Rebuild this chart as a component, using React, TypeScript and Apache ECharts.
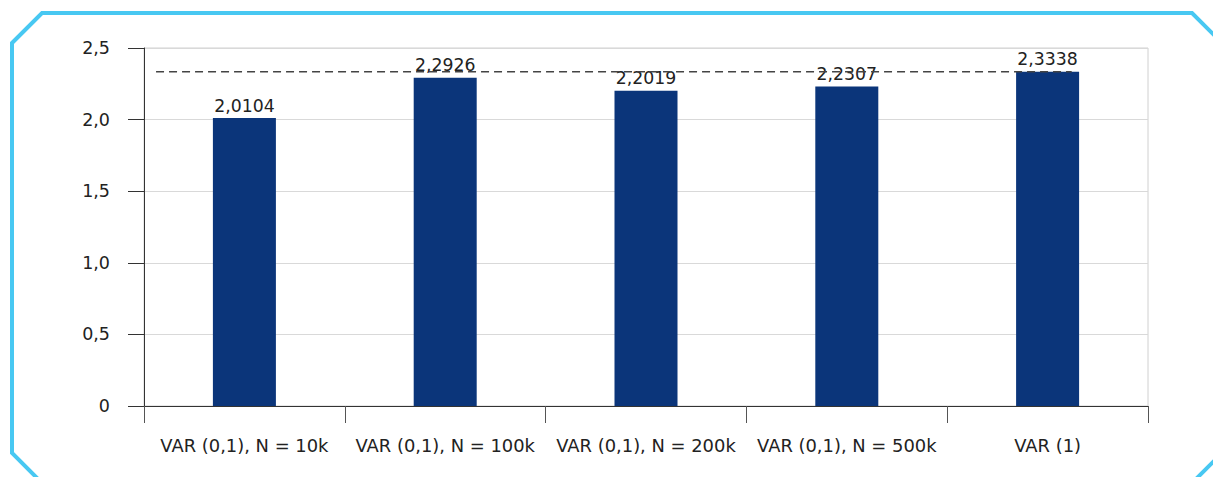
import React, { useEffect, useRef } from "react";
import * as echarts from "echarts";

const categories = [
  "VAR (0,1), N = 10k",
  "VAR (0,1), N = 100k",
  "VAR (0,1), N = 200k",
  "VAR (0,1), N = 500k",
  "VAR (1)",
];
const values = [2.0104, 2.2926, 2.2019, 2.2307, 2.3338];
const refValue = 2.3338;
const refLineX = [0.06, 4.62];
const yTicks = { min: 0, max: 2.5, interval: 0.5 };

const FONT = "'DejaVu Sans', 'Noto Sans', sans-serif";

export default function App() {
  const ref = useRef<HTMLDivElement>(null);
  useEffect(() => {
    if (!ref.current) return;
    const chart = echarts.init(ref.current, undefined, { renderer: "svg" });
    const fmt = (v: number) => (v === 0 ? "0" : v.toFixed(1).replace(".", ","));
    chart.setOption({
      animation: false,
      backgroundColor: "#ffffff",
      textStyle: { fontFamily: FONT },
      grid: {
        left: 144,
        right: 65,
        top: 48,
        bottom: 71,
        show: true,
        borderColor: "#d0d0d0",
        borderWidth: 1,
      },
      xAxis: [
        {
          type: "category",
          data: categories,
          boundaryGap: true,
          axisLine: { show: true, lineStyle: { color: "#333", width: 1 } },
          axisTick: { show: true, length: 17, lineStyle: { color: "#555" } },
          axisLabel: {
            margin: 30,
            fontSize: 17.9,
            color: "#222",
            fontFamily: FONT,
            interval: 0,
          },
          splitLine: { show: false },
        },
        {
          type: "value",
          min: 0,
          max: 5,
          show: false,
        },
      ],
      yAxis: {
        type: "value",
        min: yTicks.min,
        max: yTicks.max,
        interval: yTicks.interval,
        axisLine: { show: true, lineStyle: { color: "#333", width: 1 } },
        axisTick: { show: true, length: 16, lineStyle: { color: "#333" } },
        axisLabel: {
          margin: 34,
          fontSize: 17.5,
          color: "#222",
          fontFamily: FONT,
          formatter: fmt,
        },
        splitLine: { show: true, lineStyle: { color: "#d9d9d9", width: 1 } },
      },
      series: [
        {
          type: "bar",
          data: values,
          barWidth: 63,
          itemStyle: { color: "#0b357a" },
          label: {
            show: true,
            position: "top",
            distance: 4,
            fontSize: 17.3,
            color: "#222",
            fontFamily: FONT,
            formatter: (p: any) => Number(p.value).toFixed(4).replace(".", ","),
          },
          z: 2,
        },
        {
          type: "line",
          xAxisIndex: 1,
          data: refLineX.map((x) => [x, refValue]),
          symbol: "none",
          silent: true,
          lineStyle: { color: "#444", width: 1.5, type: [8, 5] },
          z: 3,
        },
      ],
      graphic: [
        {
          type: "polygon",
          silent: true,
          shape: {
            points: [
              [12, 43],
              [42, 13],
              [1192, 13],
              [1222, 43],
              [1222, 453],
              [1192, 483],
              [42, 483],
              [12, 453],
            ],
          },
          style: { fill: "none", stroke: "#48c8f2", lineWidth: 4 },
        },
      ],
    });
    return () => chart.dispose();
  }, []);
  return (
    <div
      ref={ref}
      style={{ position: "fixed", left: 0, top: 0, width: 1213, height: 477 }}
    />
  );
}
